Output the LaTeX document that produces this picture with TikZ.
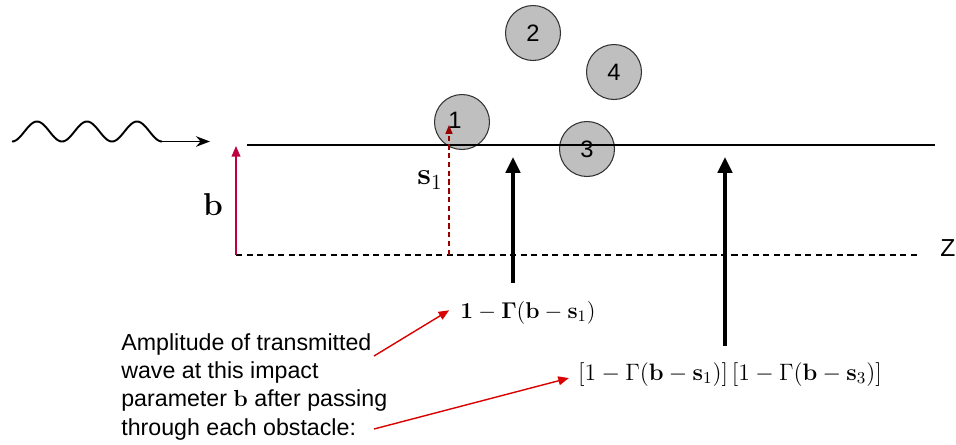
\RequirePackage{fix-cm}
\documentclass[tikz,border=0pt]{standalone}
\usepackage{amsmath, amssymb}
\usepackage[no-math]{fontspec}
\setmainfont{Liberation Sans}
\usetikzlibrary{arrows.meta, calc, positioning}

\begin{document}
\begin{tikzpicture}[x=0.02cm, y=-0.02cm, >=Stealth,
    obstacle/.style={circle, draw=black!80, fill=black!25, line width=0.6pt, minimum size=1.1cm, inner sep=0pt, font=\fontsize{13.5}{15}\selectfont},
    thickarrow/.style={line width=2.3pt, -{Triangle[length=9pt, width=8pt]}},
    pointer/.style={red!85!black, line width=0.8pt, -{Triangle[length=6pt, width=5pt]}},
    mathlabel/.style={inner sep=0pt, anchor=base, font=\fontsize{13}{15}\selectfont}]
    \useasboundingbox (0,0) rectangle (956,444);
    \node[obstacle] (o1) at (462,122) {\raisebox{2pt}{1}\hspace*{8pt}};
    \node[obstacle] (o2) at (533,33) {2};
    \node[obstacle] (o3) at (587,149) {3};
    \node[obstacle] (o4) at (614,72) {4};
    \coordinate (wave end) at (162,141.5);
    \coordinate (wave tip) at (210,141.5);
    \draw[line width=1.1pt] plot[variable=\t, domain=0:1080, samples=100, smooth] ({12+\t/360*50}, {131.5+10*cos(\t)});
    \draw[line width=1.1pt, ->] (wave end) -- (wave tip);
    \coordinate (line start) at (247,145);
    \coordinate (line end) at (935,145);
    \draw[line width=0.7pt] (line start) -- (line end);
    \coordinate (axis start) at (236,255);
    \coordinate (axis end) at (918,255);
    \draw[dashed, line width=0.6pt, dash pattern=on 3.5pt off 2.5pt] (axis start) -- (axis end);
    \node[anchor=base west, inner sep=0pt, font=\fontsize{14}{16}\selectfont] (z) at (940,256) {Z};
    \coordinate (b head) at (236,146);
    \draw[->, purple, line width=0.7pt, >={Triangle[length=6pt, width=5pt]}] (axis start) -- (b head);
    \node[inner sep=0pt, font=\fontsize{18}{20}\selectfont] (b) at (213,205) {$\mathbf{b}$};
    \coordinate (s foot) at (449,255);
    \coordinate (s head) at (449,125);
    \draw[->, dashed, red!60!black, line width=0.6pt, dash pattern=on 3pt off 2pt, >={Triangle[length=5pt, width=4pt]}] (s foot) -- (s head);
    \node[inner sep=0pt, font=\fontsize{17.5}{20}\selectfont] (s1) at (430,180) {$\mathbf{s}_1$};
    \coordinate (amp1 foot) at (513,283);
    \coordinate (amp1 head) at (513,157);
    \draw[thickarrow] (amp1 foot) -- (amp1 head);
    \coordinate (amp2 foot) at (725,346);
    \coordinate (amp2 head) at (725,157);
    \draw[thickarrow] (amp2 foot) -- (amp2 head);
    \node[mathlabel] (amp1) at (528,318) {$\mathbf{1}-\mathbf{\Gamma}(\mathbf{b}-\mathbf{s}_1)$};
    \node[mathlabel, font=\fontsize{13.5}{15}\selectfont] (amp2) at (730,380) {$[1-\Gamma(\mathbf{b}-\mathbf{s}_1)]\,[1-\Gamma(\mathbf{b}-\mathbf{s}_3)]$};
    \node[anchor=north west, inner sep=0pt, align=left, font=\fontsize{13.2}{16.1}\selectfont] (caption) at (121,333)
        {Amplitude of transmitted\\wave at this impact\\parameter $\mathbf{b}$ after passing\\through each obstacle:};
    \coordinate (ptr1) at (374,356);
    \coordinate (ptr2) at (374,429);
    \draw[pointer] (ptr1) -- ($(amp1.west)+(-11,-2)$);
    \draw[pointer] (ptr2) -- ($(amp2.west)+(-9,4)$);
\end{tikzpicture}
\end{document}
